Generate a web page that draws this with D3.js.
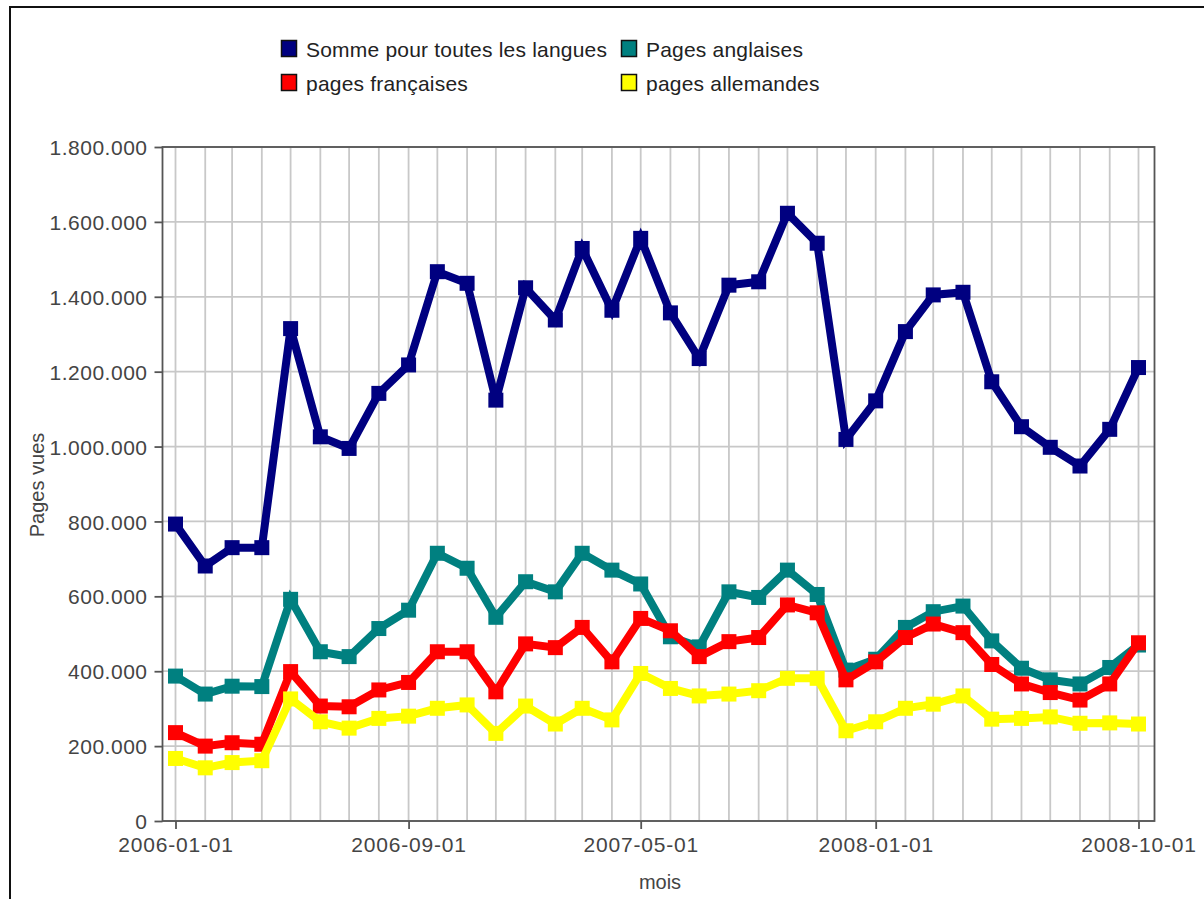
<!DOCTYPE html>
<html><head><meta charset="utf-8">
<script src="https://cdn.jsdelivr.net/npm/d3@7"></script>
<style>body{margin:0;background:#fff;} text{font-family:"Liberation Sans",Arial,sans-serif;}</style>
</head><body>
<svg id="c" width="1204" height="899"></svg>
<script>
const months = [];
for (let i = 0; i < 34; i++) months.push(new Date(2006, i, 1));
const xTickLabels = ["2006-01-01","2006-09-01","2007-05-01","2008-01-01","2008-10-01"];
const yTicks = [0,200000,400000,600000,800000,1000000,1200000,1400000,1600000,1800000];

const somme = [793,681,730,730,1315,1026,995,1142,1218,1467,1436,1124,1424,1338,1529,1364,1556,1357,1235,1431,1440,1623,1543,1019,1122,1307,1405,1412,1173,1053,998,948,1046,1211];
const anglaises = [387,339,360,359,592,452,439,514,563,715,675,544,639,612,715,670,633,492,465,612,597,670,605,403,432,517,559,574,481,408,377,366,410,470];
const francaises = [236,200,209,205,399,307,305,350,370,452,452,345,473,463,517,425,541,508,439,479,490,577,556,377,425,490,526,503,418,366,343,323,366,476];
const allemandes = [167,142,156,161,326,265,248,274,280,301,310,234,307,259,301,270,394,354,334,339,348,381,381,241,265,301,312,334,272,274,278,261,262,259];

const seriesNames = ["Somme pour toutes les langues","Pages anglaises","pages françaises","pages allemandes"];
const seriesValues = [somme, anglaises, francaises, allemandes];
const colors = ["#000080","#008080","#ff0000","#ffff00"];

const svg = d3.select("#c");
// outer border
svg.append("rect").attr("x",10).attr("y",7).attr("width",1300).attr("height",1000)
  .attr("fill","none").attr("stroke","#111").attr("stroke-width",2);

const L = 162.5, R = 1154.5, T = 147, B = 821;
const parse = d3.timeParse("%Y-%m-%d");
const x = d3.scaleTime().domain([parse("2006-01-01"), parse("2008-10-01")]).range([175.5, 1138.5]);
const y = d3.scaleLinear().domain([0,1800000]).range([B, T]);

const g = svg.append("g");
g.selectAll(".vg").data(months).enter().append("line")
  .attr("x1", d=>x(d)).attr("x2", d=>x(d)).attr("y1", T).attr("y2", B)
  .attr("stroke","#c8c8c8").attr("stroke-width",1.8);
g.selectAll(".hg").data(yTicks).enter().append("line")
  .attr("x1", L).attr("x2", R).attr("y1", d=>y(d)).attr("y2", d=>y(d))
  .attr("stroke","#c8c8c8").attr("stroke-width",1.8);

svg.append("rect").attr("x",L).attr("y",T).attr("width",R-L).attr("height",B-T)
  .attr("fill","none").attr("stroke","#555").attr("stroke-width",1.8);

const fmt = v => d3.format(",")(v).replace(/,/g,".");
const yAxis = d3.axisLeft(y).tickValues(yTicks).tickFormat(fmt).tickSize(8).tickPadding(7);
const ya = svg.append("g").attr("transform",`translate(${L},0)`).call(yAxis);
ya.select(".domain").remove();
ya.selectAll("line").attr("stroke","#555").attr("stroke-width",1.8);
ya.selectAll("text").attr("fill","#444").style("font-size","21px").style("letter-spacing","0.5px").attr("dy","0.36em");

const xAxis = d3.axisBottom(x).tickValues(xTickLabels.map(parse)).tickFormat(d3.timeFormat("%Y-%m-%d")).tickSize(8).tickPadding(8);
const xa = svg.append("g").attr("transform",`translate(0,${B})`).call(xAxis);
xa.select(".domain").remove();
xa.selectAll("line").attr("stroke","#555").attr("stroke-width",1.8);
xa.selectAll("text").attr("fill","#444").style("font-size","21px").style("letter-spacing","0.8px").attr("dy","0.71em");

svg.append("text").attr("x",660).attr("y",889).attr("text-anchor","middle").attr("fill","#444").style("font-size","20px").text("mois");
svg.append("text").attr("transform","translate(44,485) rotate(-90)").attr("text-anchor","middle").attr("fill","#444").style("font-size","20px").text("Pages vues");

const line = d3.line().x((d,i)=>x(months[i])).y(d=>y(d*1000));
seriesValues.forEach((vals, k) => {
  const sg = svg.append("g");
  sg.append("path").datum(vals).attr("d", line).attr("fill","none")
    .attr("stroke", colors[k]).attr("stroke-width", 8).attr("stroke-linejoin","miter").attr("stroke-miterlimit",4);
  sg.selectAll("rect").data(vals).enter().append("rect")
    .attr("x",(d,i)=>x(months[i])-7.5).attr("y",d=>y(d*1000)-7.5)
    .attr("width",15).attr("height",15).attr("fill",colors[k]);
});

const legPos = [[281,40],[621,40],[281,74],[621,74]];
[0,1,2,3].forEach((k, j) => {
  const [lx, ly] = legPos[j];
  svg.append("rect").attr("x",lx+0.5).attr("y",ly+0.5).attr("width",15).attr("height",16)
    .attr("fill",colors[k]).attr("stroke","#111").attr("stroke-width",1.5);
  svg.append("text").attr("x",lx+25).attr("y",ly+17).attr("fill","#222").style("font-size","21px").style("letter-spacing","0.2px").text(seriesNames[k]);
});
</script>
</body></html>
